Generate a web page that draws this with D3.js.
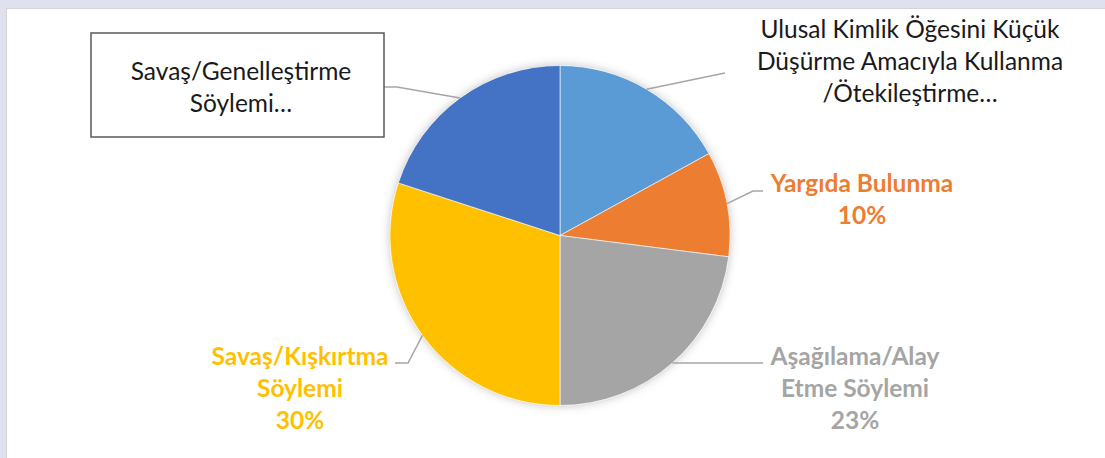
<!DOCTYPE html>
<html>
<head>
<meta charset="utf-8">
<script src="https://cdn.jsdelivr.net/npm/d3@7"></script>
<style>
  html, body { margin: 0; padding: 0; background: #dfe1ef; }
  svg { display: block; }
</style>
</head>
<body>
<div id="chart"></div>
<script>
// chart data
var categories = [
    "Ulusal Kimlik Öğesini Küçük Düşürme Amacıyla Kullanma /Ötekileştirme Söylemi",
    "Yargıda Bulunma",
    "Aşağılama/Alay Etme Söylemi",
    "Savaş/Kışkırtma Söylemi",
    "Savaş/Genelleştirme Söylemi"
];
var values = [17, 10, 23, 30, 20];
var labelLines = [
    ["Ulusal Kimlik Öğesini Küçük", "Düşürme Amacıyla Kullanma", "/Ötekileştirme…"],
    ["Yargıda Bulunma"],
    ["Aşağılama/Alay", "Etme Söylemi"],
    ["Savaş/Kışkırtma", "Söylemi"],
    ["Savaş/Genelleştirme", "Söylemi…"]
];
var showPercent = [false, true, true, true, false];
var colors = ["#5b9bd5", "#ed7d31", "#a5a5a5", "#ffc000", "#4472c4"];

// layout of the labels (centre of text block, first line y) and elbow of leader lines
var labelLayout = [
    {x: 910, y: 38, elbow: [725, 73], end: [725, 73], plain: true},
    {x: 862, y: 192, elbow: [753, 191], end: [763, 191]},
    {x: 855, y: 365, elbow: [700, 363], end: [763, 363]},
    {x: 300, y: 365, elbow: [408, 363], end: [395, 363]},
    {x: 241, y: 80, elbow: [397, 87], end: [384, 87], plain: true, box: [91, 33, 293, 104]}
];

var W = 1105, H = 458;
var cx = 560, cy = 235.5, R = 170;

var svg = d3.select("#chart").append("svg")
    .attr("width", W)
    .attr("height", H);

// white chart area
svg.append("rect")
    .attr("x", 6).attr("y", 8)
    .attr("width", W - 6).attr("height", H - 8)
    .attr("fill", "#ffffff");
svg.append("line")
    .attr("x1", 6).attr("x2", W).attr("y1", 8.5).attr("y2", 8.5)
    .attr("stroke", "#d4d4d4").attr("stroke-width", 1);
svg.append("line")
    .attr("x1", 6.5).attr("x2", 6.5).attr("y1", 8).attr("y2", H)
    .attr("stroke", "#d4d4d4").attr("stroke-width", 1);

var defs = svg.append("defs");
var filt = defs.append("filter").attr("id", "shadow")
    .attr("x", "-20%").attr("y", "-20%").attr("width", "140%").attr("height", "140%");
filt.append("feDropShadow")
    .attr("dx", 0).attr("dy", 0).attr("stdDeviation", 5)
    .attr("flood-color", "#000").attr("flood-opacity", 0.25);

var pie = d3.pie().sort(null).value(function(d) { return d; });
var arcs = pie(values);
var arc = d3.arc().innerRadius(0).outerRadius(R);
var edgeArc = d3.arc().innerRadius(R).outerRadius(R);

var g = svg.append("g").attr("transform", "translate(" + cx + "," + cy + ")");

g.append("circle").attr("r", R).attr("fill", "#fff").attr("filter", "url(#shadow)");

g.selectAll("path.slice")
    .data(arcs)
    .enter().append("path")
    .attr("class", "slice")
    .attr("d", arc)
    .attr("fill", function(d, i) { return colors[i]; })
    .attr("stroke", "#ffffff")
    .attr("stroke-width", 0.6);

// leader lines
arcs.forEach(function(d, i) {
    var L = labelLayout[i];
    var p = edgeArc.centroid(d);
    var start = [cx + p[0], cy + p[1]];
    svg.append("polyline")
        .attr("points", [start, L.elbow, L.end].map(function(q) { return q.join(","); }).join(" "))
        .attr("fill", "none")
        .attr("stroke", "#a6a6a6")
        .attr("stroke-width", 1.5);
});

// labels
var total = d3.sum(values);
arcs.forEach(function(d, i) {
    var L = labelLayout[i];
    if (L.box) {
        svg.append("rect")
            .attr("x", L.box[0]).attr("y", L.box[1])
            .attr("width", L.box[2]).attr("height", L.box[3])
            .attr("fill", "#fff")
            .attr("stroke", "#595959")
            .attr("stroke-width", 1.5);
    }
    var lines = labelLines[i].slice();
    if (showPercent[i]) lines.push(Math.round(values[i] / total * 100) + "%");
    var t = svg.append("text")
        .attr("text-anchor", "middle")
        .attr("font-family", "Lato, 'Open Sans', sans-serif")
        .attr("font-size", 24.5)
        .attr("font-weight", L.plain ? 400 : 700)
        .attr("fill", L.plain ? "#1a1a1a" : colors[i]);
    lines.forEach(function(s, k) {
        t.append("tspan")
            .attr("x", L.x)
            .attr("y", L.y + k * 32)
            .text(s);
    });
});
</script>
</body>
</html>
